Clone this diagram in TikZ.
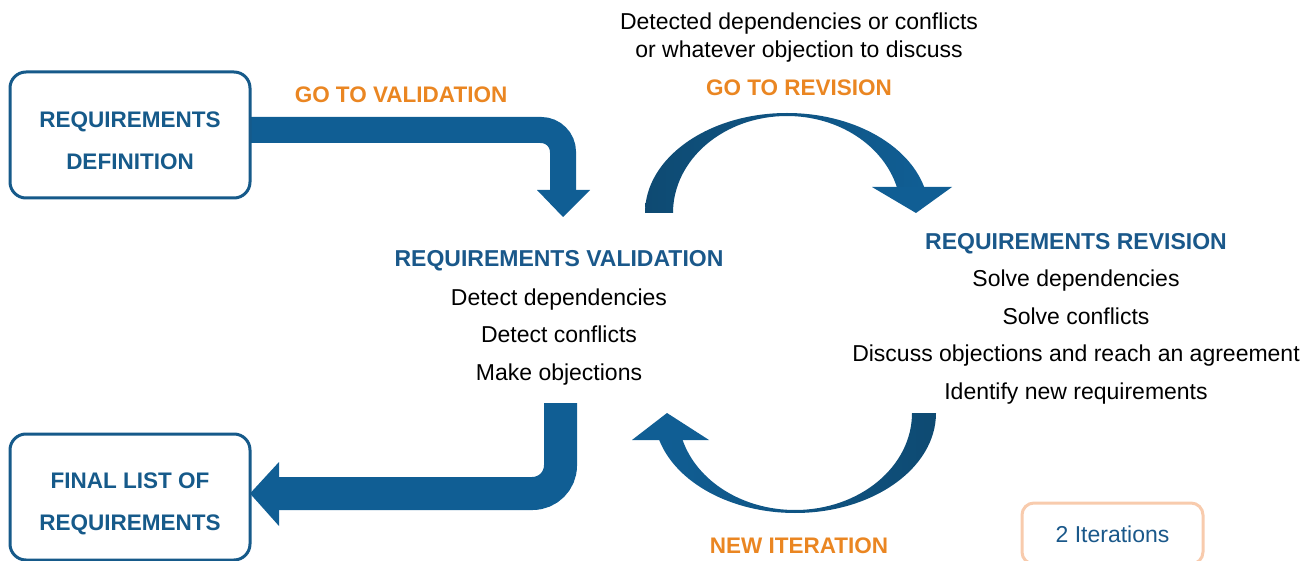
\documentclass[tikz,border=0pt]{standalone}
\usepackage{fontspec}
\setmainfont{Liberation Sans}
\definecolor{arrowblue}{RGB}{16,94,148}
\definecolor{arcdark}{RGB}{14,74,114}
\definecolor{titleblue}{RGB}{26,88,138}
\definecolor{boxblue}{RGB}{22,90,138}
\definecolor{orangetxt}{RGB}{234,134,34}
\definecolor{peach}{RGB}{248,203,173}
\begin{document}
\begin{tikzpicture}[x=1pt,y=-1pt,
  every node/.style={inner sep=0pt,outer sep=0pt},
  plaintxt/.style={font=\fontsize{23}{37.5}\selectfont, align=center, text=black},
  heading/.style={font=\fontsize{23}{37.5}\selectfont\bfseries, align=center, text=titleblue},
  orangelbl/.style={font=\fontsize{22.5}{27}\selectfont\bfseries, text=orangetxt},
  boxnode/.style={draw=boxblue, line width=3pt, rounded corners=16pt, fill=white,
    minimum width=240pt, minimum height=126pt},
  boxtxt/.style={font=\fontsize{22.5}{42}\selectfont\bfseries, align=center, text=boxblue},
  band/.style={draw=arrowblue},
  headfill/.style={fill=arrowblue}
]
\path[use as bounding box] (0,0) rectangle (1312,561);
\clip (0,0) rectangle (1312,561);

% ---------- arrow: definition -> validation
\coordinate (a1s) at (247,130);
\coordinate (a1c) at (563,191);
\draw[band, line width=26pt, rounded corners=22pt] (a1s) -| (a1c);
\coordinate (h1l) at (537,190);
\coordinate (h1r) at (590,190);
\coordinate (h1t) at (563,217);
\fill[headfill] (h1l) -- (h1r) -- (h1t) -- cycle;

% ---------- arrow: validation -> final list
\coordinate (a4s) at (560.5,403);
\coordinate (a4e) at (278,493.5);
\draw[band, line width=33pt, rounded corners=28pt] (a4s) |- (a4e);
\coordinate (h4u) at (279,462);
\coordinate (h4d) at (279,526);
\coordinate (h4t) at (250,493.5);
\fill[headfill] (h4u) -- (h4d) -- (h4t) -- cycle;

% ---------- top curved arrow (go to revision)
\shade[left color=arcdark, right color=arrowblue]
  (645,213) .. controls (645,157.8) and (708.6,113) .. (787,113)
  .. controls (851.3,113) and (907.6,143.4) .. (924.2,187.1)
  -- (896.8,187)
  .. controls (883.1,145) and (838.2,116) .. (787,116)
  .. controls (724,116) and (673,159.4) .. (673,213) -- cycle;
\fill[arrowblue] (872,187) -- (952,187) -- (916,213) -- cycle;

% ---------- bottom curved arrow (new iteration)
\shade[left color=arrowblue, right color=arcdark]
  (936,413) .. controls (936,468.2) and (872.9,513) .. (795,513)
  .. controls (731.8,513) and (676.3,483.2) .. (659.2,440)
  -- (682.6,440)
  .. controls (697.1,481.5) and (742.9,510) .. (795,510)
  .. controls (859.6,510) and (912,466.6) .. (912,413) -- cycle;
\fill[arrowblue] (632,440) -- (709,440) -- (667,413) -- cycle;

% ---------- boxes
\node[boxnode] (def) at (130,135) {};
\node[boxtxt] (deftxt) at (130,141) {REQUIREMENTS\\DEFINITION};
\node[boxnode] (fin) at (130,497) {};
\node[boxtxt] (fintxt) at (130,504) {FINAL LIST OF\\REQUIREMENTS};
\node[draw=peach, line width=3pt, rounded corners=12pt, fill=white,
  minimum width=181pt, minimum height=61pt] (iter) at (1112.5,533.5) {};
\node[font=\fontsize{23}{27}\selectfont, text=titleblue] (itertxt) at (1112.5,534) {2 Iterations};

% ---------- labels
\node[orangelbl] (gval) at (401,95) {GO TO VALIDATION};
\node[orangelbl] (grev) at (799,88) {GO TO REVISION};
\node[orangelbl] (newit) at (799,546) {NEW ITERATION};
\node[font=\fontsize{23}{28}\selectfont, align=center] (objtxt) at (799,38)
  {Detected dependencies or conflicts\\or whatever objection to discuss};

% ---------- validation block
\node[heading] (valtitle) at (559,261) {REQUIREMENTS VALIDATION};
\node[plaintxt] (valtxt) at (559,337) {Detect dependencies\\Detect conflicts\\Make objections};

% ---------- revision block
\node[heading] (revtitle) at (1076,244) {REQUIREMENTS REVISION};
\node[plaintxt] (revtxt) at (1076,337) {Solve dependencies\\Solve conflicts\\Discuss objections and reach an agreement\\Identify new requirements};
\end{tikzpicture}
\end{document}
